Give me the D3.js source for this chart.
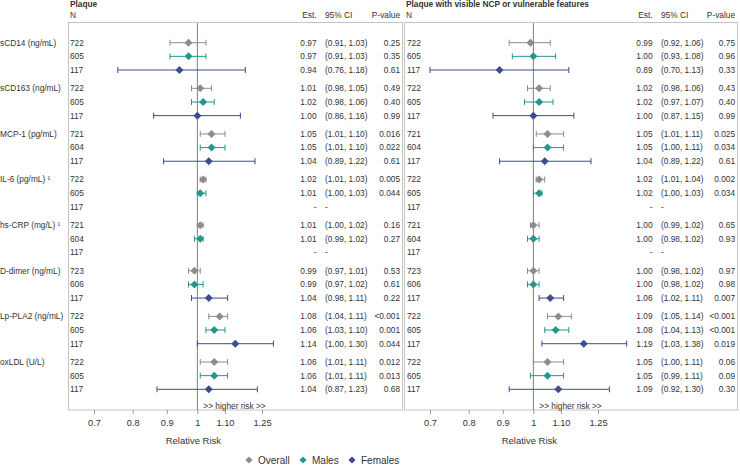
<!DOCTYPE html>
<html><head><meta charset="utf-8">
<script src="https://cdn.jsdelivr.net/npm/d3@7"></script>
<style>
html,body{margin:0;padding:0;background:#fff;}
text{font-family:"Liberation Sans",Arial,sans-serif;fill:#333;}
</style></head>
<body><svg id="c" width="740" height="465"></svg>
<script>
const biomarkers = ["sCD14 (ng/mL)","sCD163 (ng/mL)","MCP-1 (pg/mL)","IL-6 (pg/mL) \u00B9","hs-CRP (mg/L) \u00B9","D-dimer (ng/mL)","Lp-PLA2 (ng/mL)","oxLDL (U/L)"];
const groups = ["Overall","Males","Females"];
const nValues = [[722,605,117],[722,605,117],[721,604,117],[722,605,117],[721,604,117],[723,606,117],[722,605,117],[722,605,117]];

const plaqueEst = [[0.97,0.97,0.94],[1.01,1.02,1.00],[1.05,1.05,1.04],[1.02,1.01,null],[1.01,1.01,null],[0.99,0.99,1.04],[1.08,1.06,1.14],[1.06,1.06,1.04]];
const plaqueLo  = [[0.91,0.91,0.76],[0.98,0.98,0.86],[1.01,1.01,0.89],[1.01,1.00,null],[1.00,0.99,null],[0.97,0.97,0.98],[1.04,1.03,1.00],[1.01,1.01,0.87]];
const plaqueHi  = [[1.03,1.03,1.18],[1.05,1.06,1.16],[1.10,1.10,1.22],[1.03,1.03,null],[1.02,1.02,null],[1.01,1.02,1.11],[1.11,1.10,1.30],[1.11,1.11,1.23]];
const plaqueP   = [["0.25","0.35","0.61"],["0.49","0.40","0.99"],["0.016","0.022","0.61"],["0.005","0.044",""],["0.16","0.27",""],["0.53","0.61","0.22"],["<0.001","0.001","0.044"],["0.012","0.013","0.68"]];

const vulnEst = [[0.99,1.00,0.89],[1.02,1.02,1.00],[1.05,1.05,1.04],[1.02,1.02,null],[1.00,1.00,null],[1.00,1.00,1.06],[1.09,1.08,1.19],[1.05,1.05,1.09]];
const vulnLo  = [[0.92,0.93,0.70],[0.98,0.97,0.87],[1.01,1.00,0.89],[1.01,1.00,null],[0.99,0.98,null],[0.98,0.98,1.02],[1.05,1.04,1.03],[1.00,0.99,0.92]];
const vulnHi  = [[1.06,1.08,1.13],[1.06,1.07,1.15],[1.11,1.11,1.22],[1.04,1.03,null],[1.02,1.02,null],[1.02,1.02,1.11],[1.14,1.13,1.38],[1.11,1.11,1.30]];
const vulnP   = [["0.75","0.96","0.33"],["0.43","0.40","0.99"],["0.025","0.034","0.61"],["0.002","0.034",""],["0.65","0.93",""],["0.97","0.98","0.007"],["<0.001","<0.001","0.019"],["0.06","0.09","0.30"]];

const panelTitles = ["Plaque","Plaque with visible NCP or vulnerable features"];
const tickValues = [0.7,0.8,0.9,1,1.1,1.25];
const tickLabels = ["0.7","0.8","0.9","1","1.10","1.25"];
const colors = {Overall:"#8c8c8c", Males:"#25968a", Females:"#3d4c8c"};

const svg = d3.select("#c");
const FS = 8.3;
const gap = 0.34;
const y = d3.scaleLinear().domain([0, 7*(3+gap)+2]).range([42.7, 389.3]);
const rowY = (g,s) => y(g*(3+gap)+s);

const panels = [
  {est:plaqueEst, lo:plaqueLo, hi:plaqueHi, p:plaqueP, off:0},
  {est:vulnEst, lo:vulnLo, hi:vulnHi, p:vulnP, off:336}
];

svg.append("g").selectAll("text").data(biomarkers).join("text")
  .attr("x",0).attr("y",(d,i)=>rowY(i,0)).attr("dy","0.35em")
  .style("font-size",FS+"px").text(d=>d);

const diamond = d3.symbol().type(d3.symbolSquare).size(32);

panels.forEach((P,pi)=>{
  const off = P.off;
  const x = d3.scaleLog().domain([0.64,1.42]).range([68+off, 299+off]);
  const g = svg.append("g");
  const left = pi===0 ? 68 : 404;
  const right = pi===0 ? 402 : 737;
  g.append("rect").attr("x",left+0.5).attr("y",22.5).attr("width",right-left).attr("height",387.5)
    .attr("fill","none").attr("stroke","#c4c4c4").attr("stroke-width",1);
  g.append("text").attr("x",70+off).attr("y",7).style("font-size",FS+"px").style("font-weight","bold").text(panelTitles[pi]);
  g.append("text").attr("x",70+off).attr("y",18).style("font-size",FS+"px").text("N");
  g.append("text").attr("x",316.5+off).attr("y",18).attr("text-anchor","end").style("font-size",FS+"px").text("Est.");
  g.append("text").attr("x",325+off).attr("y",18).style("font-size",FS+"px").text("95% CI");
  g.append("text").attr("x",400+off-(pi===1?1:0)).attr("y",18).attr("text-anchor","end").style("font-size",FS+"px").text("P-value");
  g.append("line").attr("x1",x(1)).attr("x2",x(1)).attr("y1",23).attr("y2",410)
    .attr("stroke","#a86c6c").attr("stroke-width",1);
  g.append("text").attr("x",x(1)+6).attr("y",408.5).style("font-size",FS+"px").text(">> higher risk >>");
  const ax = g.append("g").attr("transform","translate(0,410)")
    .call(d3.axisBottom(x).tickValues(tickValues).tickFormat((d,i)=>tickLabels[i]).tickSize(4).tickPadding(5));
  ax.select(".domain").remove();
  ax.selectAll("line").attr("stroke","#999");
  ax.selectAll("text").style("font-size","9.3px").attr("fill","#333");
  g.append("text").attr("x",x(1)-4).attr("y",443.5).attr("text-anchor","middle").style("font-size","9.5px").text("Relative Risk");

  const rows = [];
  biomarkers.forEach((b,bi)=>groups.forEach((gr,si)=>{
    rows.push({bi,si,gr,n:nValues[bi][si],est:P.est[bi][si],lo:P.lo[bi][si],hi:P.hi[bi][si],p:P.p[bi][si]});
  }));
  const rg = g.append("g");
  rg.selectAll("text.n").data(rows).join("text").attr("class","n")
    .attr("x",(pi===1?407:70)).attr("y",d=>rowY(d.bi,d.si)).attr("dy","0.35em").style("font-size",FS+"px").text(d=>d.n);
  rg.selectAll("text.e").data(rows).join("text").attr("class","e")
    .attr("x",316.5+off).attr("text-anchor","end").attr("y",d=>rowY(d.bi,d.si)).attr("dy","0.35em").style("font-size",FS+"px")
    .text(d=>d.est==null?"-":d3.format(".2f")(d.est));
  rg.selectAll("text.ci").data(rows).join("text").attr("class","ci")
    .attr("x",325+off).attr("y",d=>rowY(d.bi,d.si)).attr("dy","0.35em").style("font-size",FS+"px")
    .text(d=>d.lo==null?"-":`(${d3.format(".2f")(d.lo)}, ${d3.format(".2f")(d.hi)})`);
  rg.selectAll("text.p").data(rows).join("text").attr("class","p")
    .attr("x",400+off-(pi===1?1:0)).attr("text-anchor","end").attr("y",d=>rowY(d.bi,d.si)).attr("dy","0.35em").style("font-size",FS+"px")
    .text(d=>d.p);
  const valid = rows.filter(d=>d.est!=null);
  const eb = rg.selectAll("g.eb").data(valid).join("g").attr("class","eb")
    .attr("transform",d=>`translate(0,${rowY(d.bi,d.si)})`);
  eb.append("line").attr("x1",d=>x(d.lo)).attr("x2",d=>x(d.hi)).attr("stroke",d=>colors[d.gr]).attr("stroke-width",1);
  eb.append("line").attr("x1",d=>x(d.lo)).attr("x2",d=>x(d.lo)).attr("y1",-3).attr("y2",3).attr("stroke",d=>colors[d.gr]);
  eb.append("line").attr("x1",d=>x(d.hi)).attr("x2",d=>x(d.hi)).attr("y1",-3).attr("y2",3).attr("stroke",d=>colors[d.gr]);
  eb.append("path").attr("d",diamond).attr("transform",d=>`translate(${x(d.est)},0) rotate(45)`).attr("fill",d=>colors[d.gr]);
});

const legX = [249,303,352];
const lg = svg.append("g").attr("transform","translate(0,460)");
groups.forEach((gr,i)=>{
  lg.append("path").attr("d",d3.symbol().type(d3.symbolSquare).size(26)).attr("transform",`translate(${legX[i]},0) rotate(45)`).attr("fill",colors[gr]);
  lg.append("text").attr("x",legX[i]+9).attr("y",0).attr("dy","0.35em").style("font-size","10px").text(gr);
});
</script></body></html>
